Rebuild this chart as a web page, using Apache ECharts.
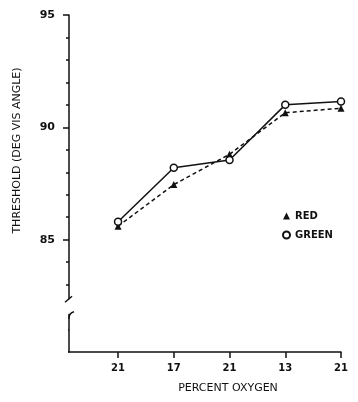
<!DOCTYPE html>
<html>
<head>
<meta charset="utf-8">
<script src="https://cdn.jsdelivr.net/npm/echarts@6/dist/echarts.min.js"></script>
<style>
  html, body { margin: 0; padding: 0; background: #fff; }
  #chart { width: 358px; height: 402px; }
</style>
</head>
<body>
<div id="chart"></div>
<script>
const oxygenLabels = ['21', '17', '21', '13', '21']
const redValues = [85.6, 87.45, 88.8, 90.65, 90.85]
const greenValues = [85.8, 88.2, 88.55, 91.0, 91.15]
const yTicks = [80, 85, 90, 95]
// where the y axis is broken
const breakHigh = 82.35
const breakLow = 81.7

const font = 'DejaVu Sans'
const chart = echarts.init(document.getElementById('chart'))

const toPoints = vals => vals.map((v, i) => [i, v])

const option = {
  animation: false,
  grid: { left: 69, right: 17, top: 15, bottom: 50 },
  legend: {
    orient: 'vertical',
    left: 277,
    top: 206,
    itemGap: 9,
    itemWidth: 7,
    itemHeight: 7,
    textStyle: { fontFamily: font, fontWeight: 'bold', fontSize: 10, color: '#111' },
    data: [
      { name: 'RED', icon: 'triangle' },
      { name: 'GREEN', icon: 'circle' }
    ]
  },
  xAxis: {
    type: 'value',
    min: -0.88,
    max: 4,
    name: 'PERCENT OXYGEN',
    nameLocation: 'middle',
    nameGap: 31,
    nameTextStyle: { fontFamily: font, fontSize: 11, color: '#111', padding: [0, 0, 0, 46] },
    axisLine: { onZero: false, lineStyle: { color: '#111', width: 1.5 } },
    axisTick: { show: true, customValues: oxygenLabels.map((_, i) => i), length: 6, lineStyle: { color: '#111', width: 1.5 } },
    axisLabel: {
      customValues: oxygenLabels.map((_, i) => i),
      formatter: v => oxygenLabels[v],
      margin: 11,
      fontFamily: font, fontWeight: 'bold', fontSize: 10, color: '#111'
    },
    splitLine: { show: false }
  },
  yAxis: {
    type: 'value',
    min: yTicks[0],
    max: yTicks[yTicks.length - 1],
    interval: 5,
    name: 'THRESHOLD (DEG VIS ANGLE)',
    nameLocation: 'middle',
    nameGap: 46,
    nameTextStyle: { fontFamily: font, fontSize: 11, color: '#111', padding: [0, 0, 0, 66] },
    axisLine: { show: true, onZero: false, lineStyle: { color: '#111', width: 1.5 } },
    axisTick: { show: true, length: 6, lineStyle: { color: '#111', width: 1.5 } },
    minorTick: { show: true, splitNumber: 5, length: 3, lineStyle: { color: '#111', width: 1.5 } },
    axisLabel: {
      margin: 14,
      formatter: v => (v === yTicks[0] ? '' : v),
      fontFamily: font, fontWeight: 'bold', fontSize: 11, color: '#111'
    },
    splitLine: { show: false }
  },
  series: [
    {
      name: 'RED',
      type: 'line',
      data: toPoints(redValues),
      symbol: 'triangle',
      symbolSize: 7,
      itemStyle: { color: '#111' },
      lineStyle: { color: '#111', width: 1.5, type: [4, 3] },
      z: 3
    },
    {
      name: 'GREEN',
      type: 'line',
      data: toPoints(greenValues),
      symbol: 'circle',
      symbolSize: 7,
      itemStyle: { color: '#fff', borderColor: '#111', borderWidth: 1.5 },
      lineStyle: { color: '#111', width: 1.5 },
      z: 4
    }
  ]
}
chart.setOption(option)

// axis break drawn on top of the y axis
function drawBreak() {
  const [x0, yHi] = chart.convertToPixel({ gridIndex: 0 }, [-0.88, breakHigh])
  const [, yLo] = chart.convertToPixel({ gridIndex: 0 }, [-0.88, breakLow])
  const [, yBottom] = chart.convertToPixel({ gridIndex: 0 }, [-0.88, yTicks[0]])
  chart.setOption({
    graphic: [
      { type: 'rect', z: 100, shape: { x: x0 - 3, y: yHi, width: 6, height: yLo - yHi }, style: { fill: '#fff' } },
      { type: 'rect', z: 100, shape: { x: x0 - 12, y: yHi, width: 11, height: yBottom - yHi + 2 }, style: { fill: '#fff' } },
      { type: 'line', z: 101, shape: { x1: x0 - 4, y1: yHi + 3, x2: x0 + 3, y2: yHi - 3 }, style: { stroke: '#111', lineWidth: 1.5 } },
      { type: 'bezierCurve', z: 101, shape: { x1: x0, y1: yLo + 5, cpx1: x0, cpy1: yLo - 1, x2: x0 + 5, y2: yLo - 2 }, style: { stroke: '#111', lineWidth: 1.5, fill: null } }
    ]
  })
}
drawBreak()
</script>
</body>
</html>
